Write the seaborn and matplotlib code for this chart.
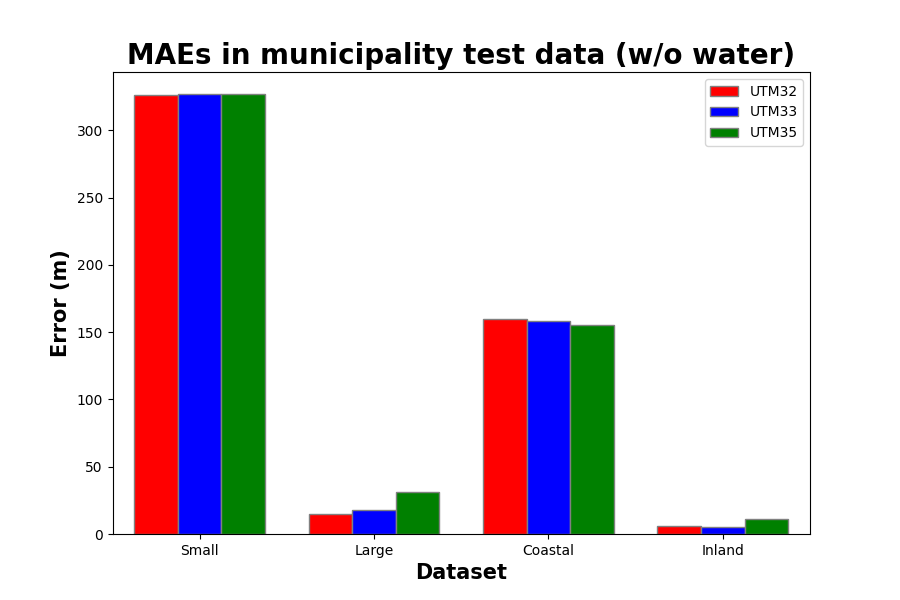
import matplotlib
matplotlib.use("Agg")
import matplotlib.pyplot as plt
import seaborn as sns
import pandas as pd

datasets = ["Small", "Large", "Coastal", "Inland"]
zones = ["UTM32", "UTM33", "UTM35"]
utm32 = [326, 15, 160, 6]
utm33 = [327, 18, 158, 5]
utm35 = [327, 31, 155, 11]
colors = ["red", "blue", "green"]

df = pd.DataFrame({
    "Dataset": datasets * 3,
    "Zone": [z for z in zones for _ in datasets],
    "Error": utm32 + utm33 + utm35,
})

fig, ax = plt.subplots(figsize=(9, 6), dpi=100)
sns.barplot(data=df, x="Dataset", y="Error", hue="Zone", palette=colors,
            width=0.75, edgecolor="grey", saturation=1, ax=ax, errorbar=None)
ax.set_title("MAEs in municipality test data (w/o water)", fontsize=20, fontweight="bold")
ax.set_xlabel("Dataset", fontsize=15, fontweight="bold")
ax.set_ylabel("Error (m)", fontsize=15, fontweight="bold")
ax.legend(title=None, loc="upper right")
fig.savefig("out.png")
